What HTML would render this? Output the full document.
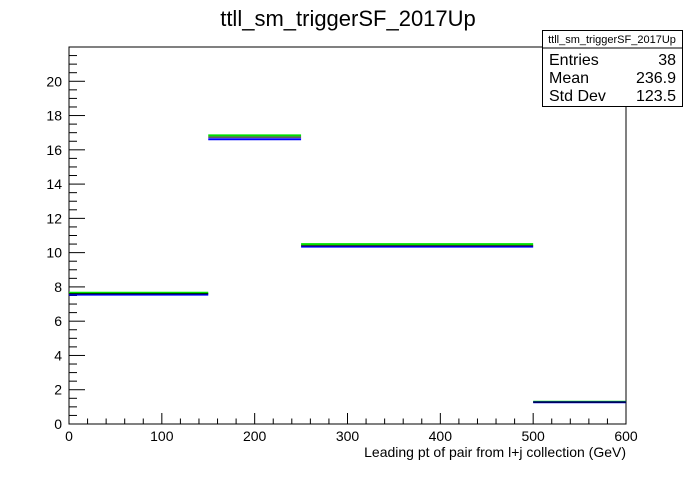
<!DOCTYPE html>
<html><head><meta charset="utf-8"><style>
body{margin:0;background:#fff;font-family:"Liberation Sans",sans-serif}
</style></head><body>
<svg width="696" height="472" xmlns="http://www.w3.org/2000/svg" font-family="Liberation Sans, sans-serif">
<rect width="696" height="472" fill="#fff"/>
<text x="348" y="26" text-anchor="middle" font-size="22">ttll_sm_triggerSF_2017Up</text>
<g id="frame"></g>
<g id="marks"></g>
<g>
<rect x="542.5" y="30.5" width="140" height="76" fill="#fff" stroke="#000"/>
<line x1="542" y1="48" x2="683" y2="48" stroke="#000"/>
<text x="612" y="43" text-anchor="middle" font-size="11">ttll_sm_triggerSF_2017Up</text>
<text x="549" y="65" font-size="16">Entries</text><text x="676" y="65" font-size="16" text-anchor="end">38</text>
<text x="549" y="83" font-size="16">Mean</text><text x="676" y="83" font-size="16" text-anchor="end">236.9</text>
<text x="549" y="101" font-size="16">Std Dev</text><text x="676" y="101" font-size="16" text-anchor="end">123.5</text>
</g>
<text x="626" y="457" text-anchor="end" font-size="14">Leading pt of pair from l+j collection (GeV)</text>
</svg>
<script>
const binEdges=[0,150,250,500,600];
const greenVals=[7.66,16.84,10.5,1.3];
const blackVals=[7.6,16.74,10.4,1.28];
const blueVals=[7.55,16.62,10.35,1.27];
const xTicks=[0,100,200,300,400,500,600];
const yTicks=[0,2,4,6,8,10,12,14,16,18,20];
const L=69,R=626,T=47,B=424,XMAX=600,YMAX=22;
const X=v=>L+v/XMAX*(R-L), Y=v=>B-v/YMAX*(B-T);
const NS="http://www.w3.org/2000/svg";
function mk(tag,attrs,parent){const e=document.createElementNS(NS,tag);for(const k in attrs)e.setAttribute(k,attrs[k]);parent.appendChild(e);return e;}
const f=document.getElementById('frame'),m=document.getElementById('marks');
const fr=mk('rect',{x:L,y:T,width:R-L,height:B-T,fill:'none',stroke:'#000'},f);


for(let v=0;v<=XMAX;v+=20){const maj=v%100===0;const t=mk('line',{x1:X(v),x2:X(v),y1:B,y2:B-(maj?11:5.5),stroke:'#000'},f);

}
xTicks.forEach(v=>{const t=mk('text',{x:X(v),y:B+17,'text-anchor':'middle','font-size':14},f);t.textContent=v;

});
for(let v=0;v<=YMAX;v+=0.5){const maj=v%2===0;const t=mk('line',{x1:L,x2:L+(maj?16:8),y1:Y(v),y2:Y(v),stroke:'#000'},f);

}
yTicks.forEach(v=>{const t=mk('text',{x:L-7,y:Y(v)+5,'text-anchor':'end','font-size':14},f);t.textContent=v;

});
[[greenVals,'#00e000','green'],[blueVals,'#0000ff','blue'],[blackVals,'#000','black']].forEach(([vals,c,n])=>{
vals.forEach((v,i)=>{const l=mk('line',{x1:X(binEdges[i]),x2:X(binEdges[i+1]),y1:Y(v),y2:Y(v),stroke:c,'stroke-width':n==='black'?1:2},m);

});});
</script>
</body></html>
